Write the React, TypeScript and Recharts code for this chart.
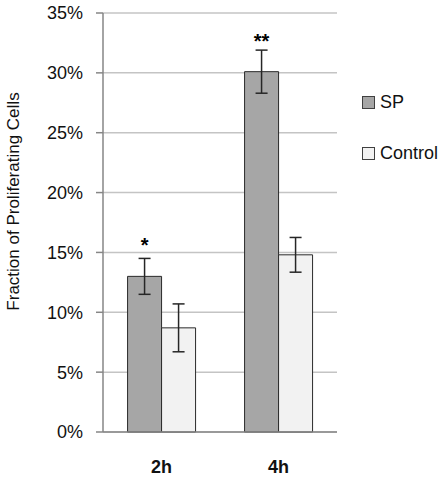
import React from 'react';
import {
  BarChart,
  Bar,
  XAxis,
  YAxis,
  CartesianGrid,
  ErrorBar,
  LabelList,
  Legend,
  Label,
} from 'recharts';

const categories = ['2h', '4h'];
const seriesNames = ['SP', 'Control'];
const spValues = [0.13, 0.301];
const spErrors = [0.015, 0.018];
const controlValues = [0.087, 0.148];
const controlErrors = [0.02, 0.0145];
const significance = ['*', '**'];
const yTicks = [0, 0.05, 0.1, 0.15, 0.2, 0.25, 0.3, 0.35];
const boundaryTicks = [0, 1, 2];

const data = categories.map((c, i) => ({
  time: c,
  sp: spValues[i],
  spErr: spErrors[i],
  control: controlValues[i],
  controlErr: controlErrors[i],
  sig: significance[i],
}));

const FONT = '"Liberation Sans", Arial, sans-serif';
const AXIS = '#868686';

const YLabel = (props: any) => {
  const vb = props.viewBox || { x: 0, y: 0, width: 0, height: 0 };
  const cx = vb.x + 19;
  const cy = vb.y + vb.height / 2 - 21;
  return (
    <text
      x={cx}
      y={cy}
      transform={`rotate(-90, ${cx}, ${cy})`}
      textAnchor="middle"
      fontSize={17}
      fontFamily={FONT}
      fill="#111"
    >
      Fraction of Proliferating Cells
    </text>
  );
};

const LegendContent = (props: any) => {
  const items = [...(props.payload || [])].sort(
    (a: any, b: any) => seriesNames.indexOf(a.value) - seriesNames.indexOf(b.value)
  );
  return (
    <div style={{ fontFamily: FONT }}>
      {items.map((it: any, i: number) => (
        <div
          key={i}
          style={{
            display: 'flex',
            alignItems: 'center',
            height: 20,
            marginBottom: 31,
          }}
        >
          <span
            style={{
              display: 'inline-block',
              width: 11,
              height: 11,
              background: it.color,
              border: '1px solid #404040',
              marginRight: 5,
            }}
          />
          <span style={{ fontSize: 18, color: '#111' }}>{it.value}</span>
        </div>
      ))}
    </div>
  );
};

export default function App() {
  return (
    <div style={{ position: 'absolute', left: 0, top: 0, background: '#fff' }}>
      <BarChart
        width={448}
        height={478}
        data={data}
        margin={{ top: 13, right: 111, bottom: 0, left: 0 }}
        barCategoryGap="21%"
        barGap={0}
      >
        <CartesianGrid vertical={false} stroke="#c4c4c4" strokeWidth={1.5} xAxisId="cat" />
        <XAxis
          xAxisId="cat"
          dataKey="time"
          height={45}
          axisLine={false}
          tickLine={false}
          tickSize={0}
          tickMargin={27}
          tick={{ fontSize: 18, fontWeight: 'bold', fill: '#111', fontFamily: FONT }}
        />
        <XAxis
          xAxisId="0"
          type="number"
          domain={[0, 2]}
          ticks={boundaryTicks}
          tick={false}
          height={1}
          tickSize={6}
          stroke={AXIS}
          strokeWidth={1.5}
          allowDataOverflow
        />
        <YAxis
          width={103}
          domain={[0, 0.35]}
          ticks={yTicks}
          tickFormatter={(v: number) => `${Math.round(v * 100)}%`}
          tickSize={7}
          tickMargin={13}
          stroke={AXIS}
          strokeWidth={1.5}
          tick={{ fontSize: 18, fill: '#111', fontFamily: FONT }}
        >
          <Label content={<YLabel />} />
        </YAxis>
        <Legend
          layout="vertical"
          align="center"
          verticalAlign="middle"
          content={<LegendContent />}
          wrapperStyle={{ left: 362, top: 92, width: 86 }}
        />
        <Bar
          xAxisId="cat"
          dataKey="sp"
          name={seriesNames[0]}
          fill="#a6a6a6"
          stroke="#2a2a2a"
          strokeWidth={1}
          isAnimationActive={false}
        >
          <ErrorBar dataKey="spErr" width={6} stroke="#262626" strokeWidth={1.5} />
          <LabelList
            dataKey="sig"
            position="top"
            offset={24}
            fill="#000"
            fontSize={20}
            fontWeight="bold"
            fontFamily={FONT}
          />
        </Bar>
        <Bar
          xAxisId="cat"
          dataKey="control"
          name={seriesNames[1]}
          fill="#f2f2f2"
          stroke="#2a2a2a"
          strokeWidth={1}
          isAnimationActive={false}
        >
          <ErrorBar dataKey="controlErr" width={6} stroke="#262626" strokeWidth={1.5} />
        </Bar>
      </BarChart>
    </div>
  );
}
